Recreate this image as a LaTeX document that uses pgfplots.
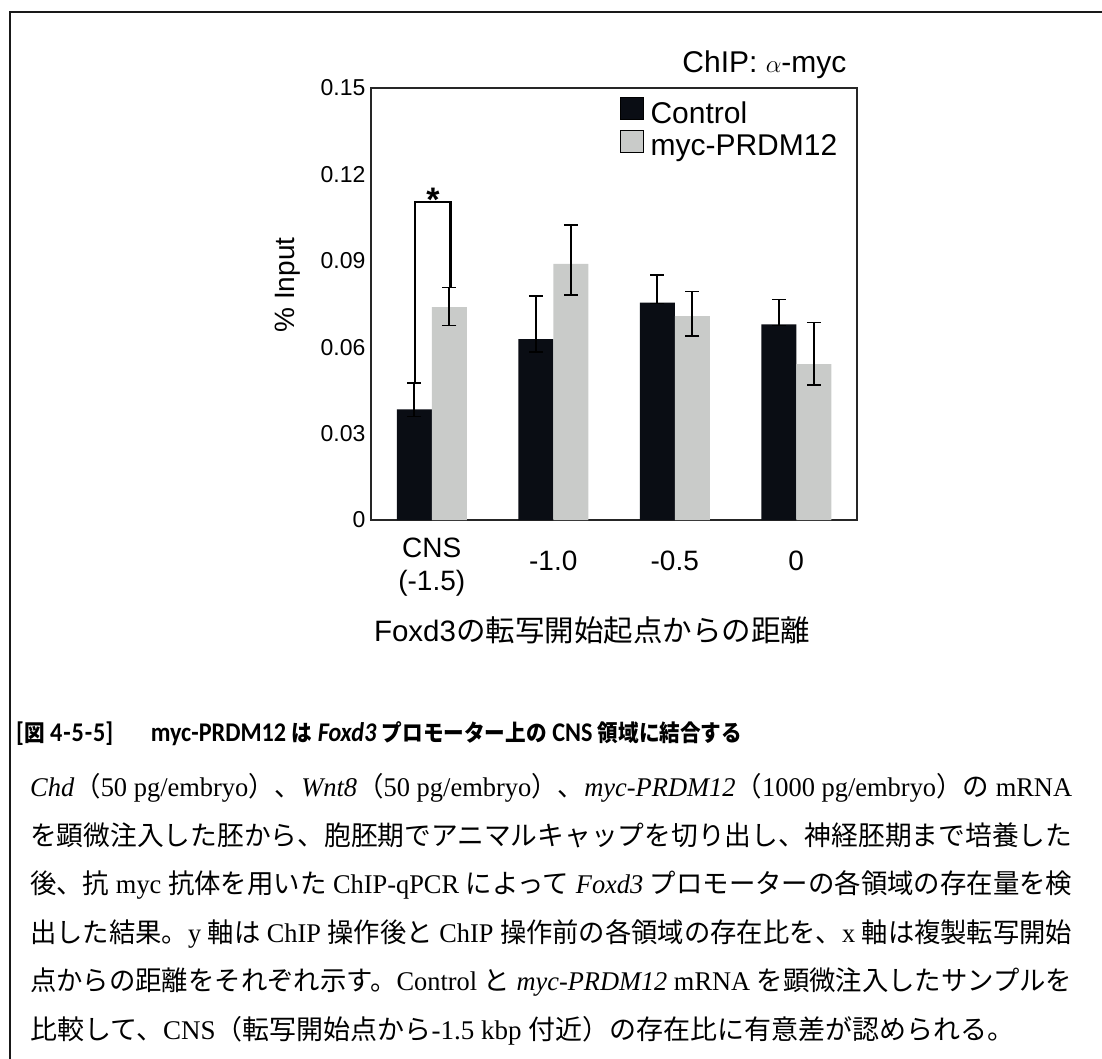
\documentclass[border=0pt]{standalone}
\usepackage{fontspec}
\usepackage{graphicx}
\usepackage{pgfplots}
\pgfplotsset{compat=1.18}
\setmainfont{Liberation Sans}
\newfontfamily\cjk{Noto Sans CJK JP}
\newfontfamily\serif{Liberation Serif}
\newfontfamily\carlito{Carlito}
\definecolor{ctrl}{HTML}{0A0D14}
\definecolor{mycg}{HTML}{C9CBC9}
\newcommand{\J}[1]{{\cjk #1}}
\newcommand{\HB}[1]{{\cjk\bfseries\fontsize{23}{26}\selectfont #1}}
\newcommand{\HL}[1]{{\carlito\bfseries\fontsize{27}{26}\selectfont #1}}
\newcommand{\FL}[1]{\resizebox{1042pt}{\height}{#1}}
\pgfplotsset{/pgfplots/ybar legend/.style={/pgfplots/legend image code/.code={\draw[##1] (0pt,-4pt) rectangle (23pt,18pt);}}}
\begin{document}
\begin{tikzpicture}
\path[use as bounding box] (0pt,0pt) rectangle (1102pt,-1059pt);
\draw[line width=2pt, black!90] (9.5pt,-1059pt) -- (9.5pt,-12.5pt) -- (1102pt,-12.5pt);
\begin{axis}[
  at={(371pt,-520pt)}, anchor=south west,
  scale only axis, width=486pt, height=432pt,
  xmin=-0.5, xmax=3.5, ymin=0, ymax=0.15,
  axis line style={line width=1.5pt, black!85},
  ytick={0,0.03,0.06,0.09,0.12,0.15},
  yticklabels={0,0.03,0.06,0.09,0.12,0.15},
  xtick={0,1,2,3},
  xticklabels={{\rule{0pt}{31pt}CNS\\(-1.5)},{-1.0},{-0.5},{0}},
  major tick length=0pt,
  /pgf/number format/assume math mode=true,
  yticklabel style={font=\fontsize{23}{27}\selectfont, xshift=-2pt},
  xticklabel style={align=center, font=\fontsize{28}{33}\selectfont, anchor=center, yshift=-41pt},
  ybar=0pt, bar width=35pt,
  clip=false,
  legend style={at={(0.5123,0.98)}, anchor=north west, draw=none, fill=none,
    font=\fontsize{30}{32}\selectfont, inner sep=0pt,
    nodes={inner sep=0pt, text height=22pt, text depth=6pt},
    row sep=0.5pt, column sep=7pt},
  legend cell align=left,
]
\addplot[fill=ctrl, draw=none,
  error bars/.cd, y dir=both, y explicit,
  error bar style={line width=1.6pt, black},
  error mark options={rotate=90, mark size=7pt, line width=1.6pt, black}]
  coordinates {
  (0,0.0384) += (0,0.0091) -= (0,0.0025)
  (1,0.0628) += (0,0.0150) -= (0,0.0044)
  (2,0.0755) += (0,0.0096) -= (0,0.0003)
  (3,0.0679) += (0,0.0087) -= (0,0.0003)
  };
\addlegendentry{Control}
\addplot[fill=mycg, draw=none,
  error bars/.cd, y dir=both, y explicit,
  error bar style={line width=1.6pt, black},
  error mark options={rotate=90, mark size=7pt, line width=1.6pt, black}]
  coordinates {
  (0,0.0739) += (0,0.0068) -= (0,0.0064)
  (1,0.0889) += (0,0.0135) -= (0,0.0108)
  (2,0.0708) += (0,0.0085) -= (0,0.0069)
  (3,0.0541) += (0,0.0145) -= (0,0.0072)
  };
\addlegendentry{myc-PRDM12}
\draw[line width=2.2pt] (axis cs:-0.135,0.0475) -- (axis cs:-0.135,0.1105) -- (axis cs:0.155,0.1105) -- (axis cs:0.155,0.0807);
\node[anchor=base, font=\fontsize{34}{36}\selectfont\bfseries] at (axis cs:0.01,0.1072) {*};
\end{axis}
\node[anchor=base east, font=\fontsize{30}{36}\selectfont] at (850pt,-73pt) {ChIP: $\alpha$-myc};
\node[font=\fontsize{29.5}{32}\selectfont] at (592pt,-630pt) {Foxd3\J{の転写開始起点からの距離}};
\node[rotate=90, font=\fontsize{28}{32}\selectfont] at (288pt,-285pt) {\% Input};
% caption
\node[anchor=base west, inner sep=0pt] at (16pt,-741pt) {\resizebox{726pt}{\height}{\HL{[}\HB{図}\HL{ 4\kern1pt-\kern1pt5\kern1pt-\kern1pt5]}\hspace{42pt}\HL{myc-PRDM12 }\HB{は}\HL{\itshape{} Foxd3 }\HB{プロモーター上の}\HL{ CNS }\HB{領域に結合する}}};
\begin{scope}[every node/.style={anchor=base west, inner sep=0pt, font=\fontsize{27}{30}\selectfont}]
\node at (30pt,-796pt) {\FL{{\serif\itshape Chd}\J{（}{\serif 50 pg/embryo}\J{）、}{\serif\itshape Wnt8}\J{（}{\serif 50 pg/embryo}\J{）、}{\serif\itshape myc-PRDM12}\J{（}{\serif 1000 pg/embryo}\J{）の}{\serif{} mRNA}}};
\node at (30pt,-845pt) {\FL{\J{を顕微注入した胚から、胞胚期でアニマルキャップを切り出し、神経胚期まで培養した}}};
\node at (30pt,-893pt) {\FL{\J{後、抗}{\serif{} myc }\J{抗体を用いた}{\serif{} ChIP-qPCR }\J{によって}{\serif\itshape{} Foxd3 }\J{プロモーターの各領域の存在量を検}}};
\node at (30pt,-942pt) {\FL{\J{出した結果。}{\serif y }\J{軸は}{\serif{} ChIP }\J{操作後と}{\serif{} ChIP }\J{操作前の各領域の存在比を、}{\serif x }\J{軸は複製転写開始}}};
\node at (30pt,-990pt) {\FL{\J{点からの距離をそれぞれ示す。}{\serif Control }\J{と}{\serif\itshape{} myc-PRDM12}{\serif{} mRNA }\J{を顕微注入したサンプルを}}};
\node at (30pt,-1039pt) {\J{比較して、}{\serif CNS}\J{（転写開始点から}{\serif{}-1.5 kbp }\J{付近）の存在比に有意差が認められる。}};
\end{scope}
\end{tikzpicture}
\end{document}
